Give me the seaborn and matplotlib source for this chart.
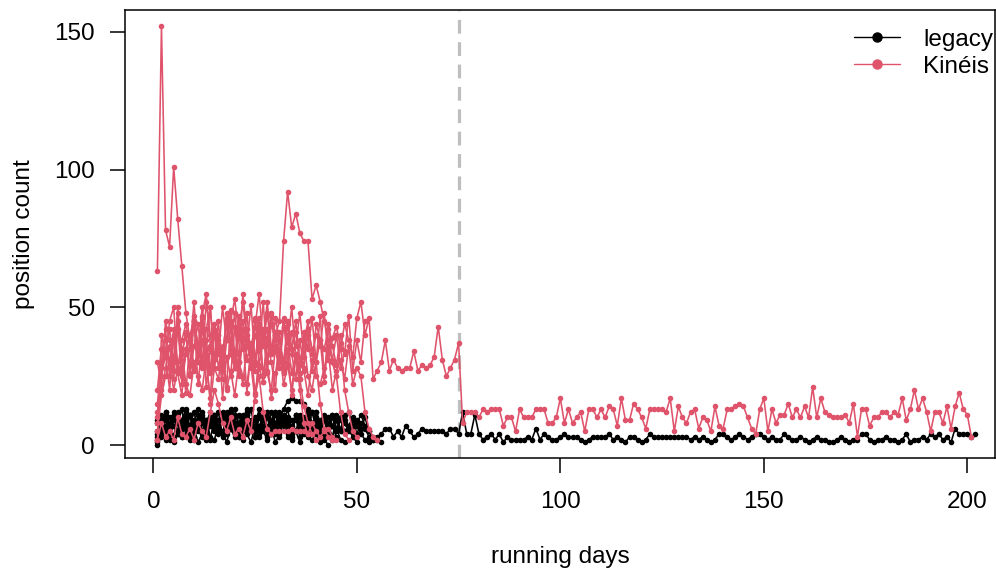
# Libraries
import numpy as np
import pandas as pd
import seaborn as sns
import matplotlib.pyplot as plt
from matplotlib.lines import Line2D

# Data: daily position counts per tag
# Kinéis tags
kin_long = [20, 35, 38, 30, 42, 28, 33, 40, 25, 36, 44, 30, 38, 27, 41, 35, 30, 46, 33, 28,
            39, 45, 31, 37, 29, 42, 36, 48, 33, 40, 38, 30, 44, 35, 41, 29, 37, 45, 33, 40,
            36, 48, 31, 39, 43, 35, 44, 38, 32, 46, 52, 40, 46,
            24, 27, 30, 38, 27, 31, 28, 27, 28, 28, 34, 27, 29, 28, 29, 32, 43, 31, 25, 28, 31, 37,
            8,
            12, 12, 12, 10, 13, 12, 13, 13, 13, 7,
            10, 10, 5, 13, 10, 10, 10, 13, 13, 13,
            8, 8, 10, 17, 8, 13, 8, 10, 12, 5,
            13, 13, 10, 13, 10, 14, 13, 7, 17, 9,
            9, 15, 13, 10, 6, 13, 13, 13, 13, 12,
            17, 5, 14, 10, 8, 12, 13, 6, 10, 9,
            5, 14, 7, 6, 13, 13, 14, 15, 14, 10,
            6, 4, 13, 17, 5, 13, 8, 11, 11, 15,
            10, 13, 10, 14, 10, 21, 10, 17, 12, 11,
            10, 10, 10, 11, 8, 15, 3, 13, 13, 7,
            10, 10, 12, 12, 10, 12, 11, 17, 9, 13,
            20, 13, 17, 12, 5, 12, 12, 8, 14, 6,
            14, 19, 13, 11, 3]
kin_spike = [63, 152, 78, 72, 101, 82, 65, 48, 38, 45, 30, 42, 35, 50, 28, 40, 33, 45, 38, 30,
             47, 36, 42, 28, 40, 35, 52, 30, 44, 38, 33, 46, 29, 41, 36, 48, 32, 40, 27, 44,
             38, 35, 42, 30, 25, 37, 20, 12, 5, 3]
kin_peak = [15, 30, 42, 25, 38, 45, 22, 35, 40, 28, 35, 50, 33, 26, 44, 37, 30, 48, 35, 28,
            42, 52, 38, 30, 45, 36, 42, 27, 48, 40, 45, 74, 92, 79, 84, 77, 74, 74, 53, 58,
            52, 45, 38, 30, 25, 12, 4, 2]
kin_low_band = [5, 18, 25, 30, 20, 28, 35, 22, 18, 30, 25, 20, 32, 15, 28, 24, 35, 20, 27, 18,
                30, 25, 22, 34, 19, 28, 23, 30, 17, 26, 35, 22, 29, 20, 33, 24, 27, 18, 31, 25,
                22, 28, 34, 20, 27, 31, 24, 36, 22, 28, 25, 12, 6, 3, 2]
kin_high_band = [2, 40, 32, 45, 50, 28, 38, 44, 35, 52, 30, 47, 55, 36, 41, 33, 50, 38, 45, 53,
                 40, 35, 48, 30, 43, 55, 37, 42, 33, 46, 38, 28, 40, 35, 45, 30, 38, 25, 20, 30,
                 15, 6, 3, 2]
kin_bottom = [2, 8, 3, 5, 2, 10, 4, 3, 6, 2, 8, 5, 3, 12, 20, 15, 8, 5, 10, 4,
              6, 3, 9, 5, 18, 25, 12, 6, 4, 5, 5, 5, 5, 6, 5, 5, 5, 4, 8, 5,
              3, 5, 6, 3, 2]
kin_mid = [10, 28, 35, 42, 30, 48, 25, 33, 40, 45, 36, 28, 42, 50, 32, 38, 27, 44, 36, 48,
           30, 55, 40, 34, 46, 29, 38, 52, 35, 41, 30, 45, 38, 26, 33, 20, 8, 4]
kin_e = [30, 22, 45, 38, 27, 50, 33, 41, 26, 47, 35, 29, 52, 40, 31, 45, 24, 38, 49, 33,
         27, 42, 36, 51, 30, 44, 25, 39, 47, 34, 28, 43, 37, 50, 32, 26, 41, 35, 46, 30,
         38, 23, 44, 36, 29, 40, 33, 47, 27, 38, 30, 45]
kin_f = [12, 25, 33, 20, 40, 26, 18, 35, 29, 45, 22, 38, 30, 17, 42, 28, 36, 21, 44, 31,
         25, 39, 19, 34, 27, 46, 23, 37, 30, 20, 41, 26, 35, 18, 32, 24, 14, 8, 4, 2]
kin_g = [8, 20, 28, 36, 24, 42, 31, 19, 38, 27, 33, 46, 21, 35, 28, 40, 17, 32, 25, 43,
         30, 22, 37, 29, 16, 34, 41, 26, 20, 36, 31, 27, 45, 33, 24, 38, 28, 42, 35, 30,
         47, 25, 36, 31, 40, 28, 34]

# legacy tags
leg_long = [3, 8, 5, 10, 7, 4, 9, 6, 11, 5, 8, 3, 7, 10, 6, 9, 4, 12, 7, 5,
            8, 11, 6, 9, 3, 7, 10, 5, 8, 12, 6, 9, 4, 7, 11, 8, 5, 10, 6, 9,
            7, 4, 8, 11, 6, 9, 5, 7, 10, 4, 8, 6, 3, 2,
            3, 4, 6, 6, 3, 5, 3, 7, 5, 3, 4, 6, 5, 5, 5, 5, 5, 4, 6, 6, 4,
            12, 4, 4, 11, 4, 2, 3, 4, 2, 4, 1, 3, 2, 2, 2, 2, 3, 2, 6, 2,
            4, 3, 2, 2, 3, 4, 3, 3, 3, 2, 1, 2, 3, 3, 3, 3, 4, 2,
            3, 2, 1, 3, 3, 2, 1,
            2, 4, 3, 3, 3, 3, 3, 3, 3, 3, 3, 2, 3, 2, 3, 2, 1, 2, 4, 4,
            3, 2, 3, 4, 3, 2, 3, 4, 4, 3, 2, 3, 2, 2, 4, 3, 2, 2, 3, 2, 1, 2, 3,
            2, 2, 1, 1, 2, 3, 2, 1, 2, 2, 4, 4, 2, 1, 2, 2, 3, 2, 2, 1,
            2, 4, 1, 2, 2, 3, 2, 4, 3, 4, 2, 3, 1, 6, 4, 4, 4, 3, 4]
leg_a = [1, 6, 9, 4, 11, 8, 3, 10, 7, 12, 5, 9, 2, 8, 11, 6, 10, 4, 9, 13,
         7, 5, 11, 8, 3, 10, 6, 12, 9, 4, 8, 11, 7, 5, 10, 3, 9, 6, 12, 8,
         4, 10, 7, 2, 9, 5, 11, 6, 3, 1]
leg_b = [8, 3, 12, 7, 10, 5, 9, 13, 6, 2, 11, 8, 4, 10, 7, 12, 3, 9, 6, 11,
         8, 5, 13, 7, 10, 4, 9, 12, 6, 8, 3, 11, 7, 9, 5, 10, 8, 12, 6, 4,
         9, 11, 7, 3, 10, 6, 8, 5, 9, 7, 4, 2, 1]
leg_bump = [2, 10, 5, 8, 12, 4, 9, 7, 11, 3, 8, 10, 6, 12, 5, 9, 4, 11, 7, 10,
            3, 8, 12, 6, 9, 5, 10, 7, 4, 11, 9, 13, 16, 17, 16, 16, 15, 13, 8, 10,
            6, 9, 4, 7, 3]
leg_low = [0, 4, 2, 7, 1, 5, 3, 8, 2, 6, 1, 4, 9, 3, 2, 7, 5, 1, 6, 3,
           8, 2, 4, 1, 7, 3, 5, 2, 6, 1, 4, 8, 3, 2, 5, 1, 6, 3, 2, 4,
           1, 2, 0]
leg_c = [5, 9, 12, 6, 10, 8, 13, 4, 11, 7, 9, 12, 5, 10, 8, 6, 11, 9, 13, 7,
         4, 10, 12, 8, 6, 11, 9, 5, 12, 7, 10, 8, 13, 6, 9, 11, 4, 10, 7, 12,
         8, 9, 6, 11, 5, 10, 8, 12, 7, 9, 6, 10, 5, 3, 2, 1]
leg_d = [4, 11, 7, 2, 9, 12, 6, 10, 3, 8, 13, 5, 9, 7, 11, 4, 10, 6, 12, 8,
         3, 9, 11, 5, 7, 13, 6, 10, 4, 8, 12, 7, 9, 3, 11, 6, 10, 8, 5, 12,
         7, 9, 4, 10, 6, 2, 1]
leg_e = [9, 5, 11, 8, 3, 10, 7, 12, 4, 9, 6, 11, 8, 2, 10, 5, 12, 7, 9, 4,
         11, 6, 8, 13, 5, 10, 7, 3, 9, 12, 6, 8, 10, 4, 11, 7, 5, 9, 12, 6,
         8, 3, 10, 7, 11, 5, 9, 6, 4, 8, 11, 7, 5, 2]

switch_day = 75

# Build long table (every tag starts on running day 1)
tags = [("leg_long", "legacy", leg_long), ("leg_a", "legacy", leg_a),
        ("leg_b", "legacy", leg_b), ("leg_bump", "legacy", leg_bump),
        ("leg_low", "legacy", leg_low), ("leg_c", "legacy", leg_c),
        ("leg_d", "legacy", leg_d), ("leg_e", "legacy", leg_e),
        ("kin_long", "Kinéis", kin_long), ("kin_spike", "Kinéis", kin_spike),
        ("kin_peak", "Kinéis", kin_peak), ("kin_low_band", "Kinéis", kin_low_band),
        ("kin_high_band", "Kinéis", kin_high_band), ("kin_bottom", "Kinéis", kin_bottom),
        ("kin_mid", "Kinéis", kin_mid), ("kin_e", "Kinéis", kin_e),
        ("kin_f", "Kinéis", kin_f), ("kin_g", "Kinéis", kin_g)]
frames = []
for name, kind, vals in tags:
    frames.append(pd.DataFrame({"day": np.arange(1, len(vals) + 1), "count": vals,
                                "tag": name, "system": kind}))
df = pd.concat(frames, ignore_index=True)

pal = {"legacy": "black", "Kinéis": "#DF536B"}

# Plot
sns.set_style("white")
plt.rcParams['font.family'] = ['Liberation Sans', 'DejaVu Sans']
plt.rcParams['text.color'] = 'black'
plt.rcParams['axes.labelcolor'] = 'black'
plt.rcParams['xtick.color'] = 'black'
plt.rcParams['ytick.color'] = 'black'
fig = plt.figure(figsize=(9.96, 5.71), dpi=100)
ax = fig.add_axes([125 / 996, 1 - 458 / 571, 870 / 996, 448 / 571])

sns.lineplot(data=df, x="day", y="count", hue="system", units="tag", estimator=None,
             hue_order=["legacy", "Kinéis"], palette=pal, marker="o", markersize=4.0,
             markeredgewidth=0, linewidth=1.15, legend=False, sort=False, ax=ax)

ax.axvline(switch_day, color="#BEBEBE", linewidth=2.3, dashes=(4.3, 2.7), zorder=0)

ax.set_xlim(-6.96, 206.8)
ax.set_ylim(-4.7, 157.9)
ax.set_xticks([0, 50, 100, 150, 200])
ax.set_yticks([0, 50, 100, 150])
ax.tick_params(axis="both", labelsize=17.5, length=10.8, width=1.1, color="black",
               labelcolor="black", direction="out", bottom=True, left=True)
ax.tick_params(axis="y", pad=11)
ax.tick_params(axis="x", pad=13)
for s in ax.spines.values():
    s.set_color("black")
    s.set_linewidth(1.1)
ax.set_xlabel("running days", fontsize=17.5, labelpad=24, color="black")
ax.set_ylabel("position count", fontsize=17.5, labelpad=14, color="black")

handles = [Line2D([0], [0], color="black", marker="o", markersize=6.5, linewidth=1.0),
           Line2D([0], [0], color="#DF536B", marker="o", markersize=6.5, linewidth=1.0)]
leg = ax.legend(handles, ["legacy", "Kinéis"], loc="upper right", bbox_to_anchor=(0.998, 0.958),
                frameon=False, fontsize=17.5, handlelength=1.9, handletextpad=0.95,
                labelspacing=0.2, borderpad=0, borderaxespad=0)
for t in leg.get_texts():
    t.set_color("black")

plt.savefig("out.png", dpi=100)
